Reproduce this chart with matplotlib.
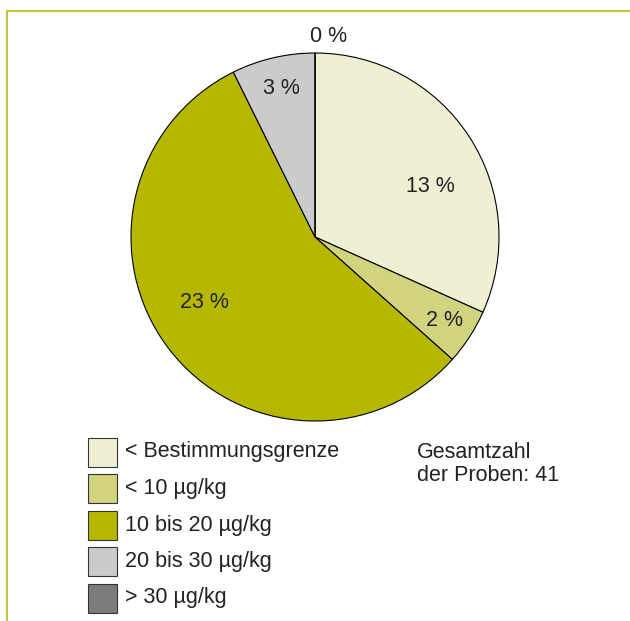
import matplotlib.pyplot as plt
from matplotlib.patches import Rectangle
from matplotlib.lines import Line2D

kategorien = ["< Bestimmungsgrenze", "< 10 µg/kg", "10 bis 20 µg/kg",
              "20 bis 30 µg/kg", "> 30 µg/kg"]
anzahl = [13, 2, 23, 3, 0]
farben = ["#EFF0D3", "#D2D37E", "#B6B800", "#CBCBCB", "#7B7B7B"]
# Positionen der Beschriftungen (Pixel, von oben)
label_pos = [(430, 186), (444, 320), (204, 303), (281, 89), (329, 37)]

plt.rcParams['font.family'] = ['Liberation Sans', 'DejaVu Sans']

W, H = 630, 621
fig = plt.figure(figsize=(W / 100, H / 100), dpi=100)
ax = fig.add_axes([0, 0, 1, 1])
ax.set_xlim(0, W)
ax.set_ylim(0, H)
ax.set_aspect('equal')
ax.axis('off')

# Rahmen oben und links
ax.add_line(Line2D([6.5, 6.5, W], [0, H - 11, H - 11], color="#C5C83C", lw=1.5))

ax.pie(anzahl, colors=farben, startangle=90, counterclock=False,
       center=(315, H - 237), radius=184,
       wedgeprops=dict(edgecolor="black", linewidth=0.8))
ax.set_xlim(0, W)
ax.set_ylim(0, H)

fs = 15.5
for n, (px, py) in zip(anzahl, label_pos):
    ax.text(px, H - py, f"{n} %", fontsize=fs, ha='center', va='center',
            color="#222222")

# Legende
for i, (k, f) in enumerate(zip(kategorien, farben)):
    yc = 452 + i * 36.5
    ax.add_patch(Rectangle((88, H - yc - 14.5), 29, 29, facecolor=f,
                           edgecolor="#333333", lw=0.8))
    ax.text(125, H - yc, k, fontsize=fs, va='center', ha='left', color="#222222")

ax.text(417, H - 464, "Gesamtzahl\nder Proben: 41", fontsize=fs, va='center',
        ha='left', color="#222222", linespacing=1.15)

fig.savefig("out.png", dpi=100)
